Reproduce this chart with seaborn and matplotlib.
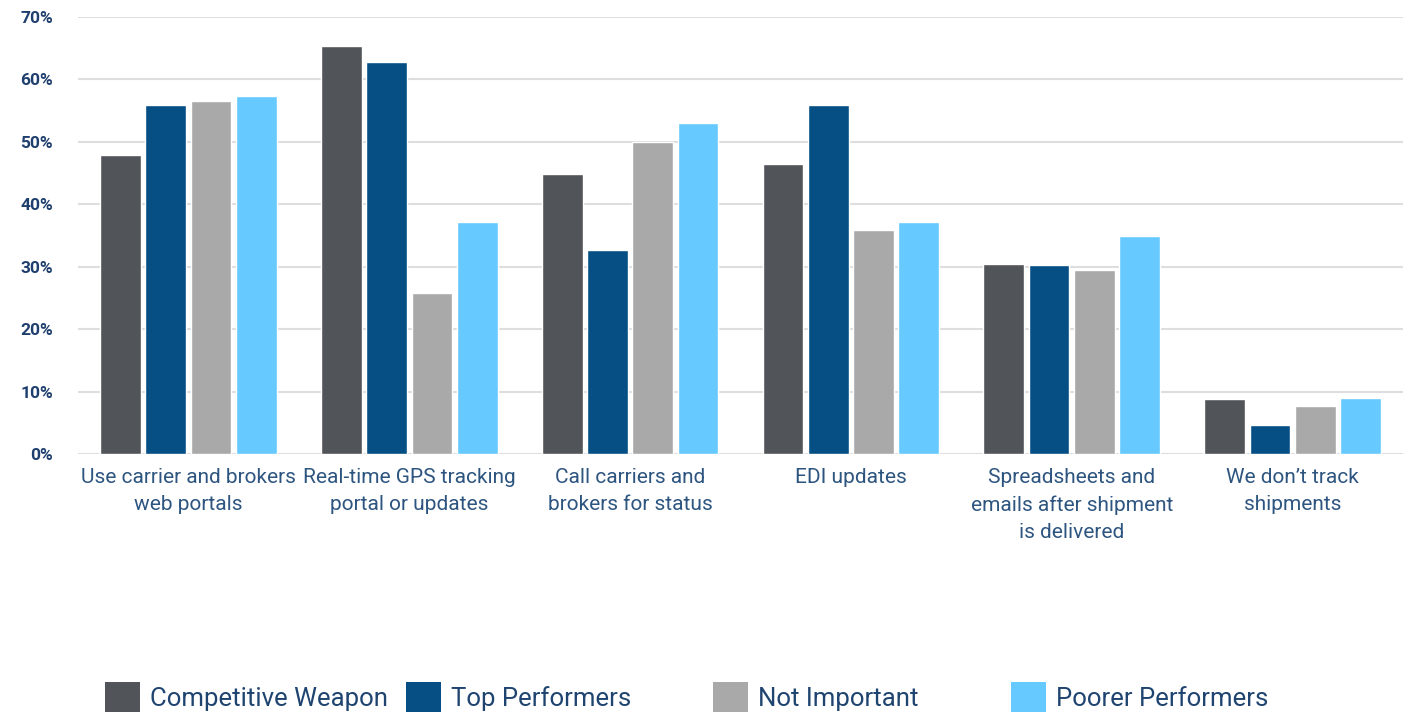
import numpy as np
import pandas as pd
import matplotlib
matplotlib.use("Agg")
import matplotlib.pyplot as plt
from matplotlib.patches import Patch
import seaborn as sns

categories = [
    "Use carrier and brokers\nweb portals",
    "Real-time GPS tracking\nportal or updates",
    "Call carriers and\nbrokers for status",
    "EDI updates",
    "Spreadsheets and\nemails after shipment\nis delivered",
    "We don\u2019t track\nshipments",
]
series_names = ["Competitive Weapon", "Top Performers", "Not Important", "Poorer Performers"]
competitive_weapon = [47.9, 65.4, 44.9, 46.5, 30.4, 8.8]
top_performers = [55.9, 62.8, 32.7, 55.9, 30.3, 4.6]
not_important = [56.5, 25.8, 50.0, 35.9, 29.5, 7.7]
poorer_performers = [57.3, 37.2, 53.0, 37.2, 34.9, 9.0]
y_ticks = [0, 10, 20, 30, 40, 50, 60, 70]
y_tick_labels = ["0%", "10%", "20%", "30%", "40%", "50%", "60%", "70%"]

colors = ["#515458", "#054f85", "#a9a9a9", "#66c9ff"]

rows = []
for name, vals in zip(series_names, [competitive_weapon, top_performers, not_important, poorer_performers]):
    for c, v in zip(categories, vals):
        rows.append({"category": c, "series": name, "value": v})
df = pd.DataFrame(rows)

sns.set_theme(style="white")
plt.rcParams["font.family"] = ["Roboto", "DejaVu Sans"]

fig = plt.figure(figsize=(14.03, 7.16), dpi=100)
ax = fig.add_axes([78 / 1403, 1 - 454 / 716, 1 - 78 / 1403, (454 - 17) / 716])

sns.barplot(data=df, x="category", y="value", hue="series", hue_order=series_names,
            order=categories, palette=colors, width=0.82, gap=0.1, saturation=1,
            legend=False, ax=ax, zorder=3)

ax.set_ylim(0, 70)
ax.set_xlim(-0.5, 5.5)
ax.set_yticks(y_ticks)
ax.set_yticklabels(y_tick_labels, fontsize=12.5, fontweight="bold", color="#1f3f6e")
ax.set_xticks(range(len(categories)))
ax.set_xticklabels(categories, fontsize=15, color="#2d5580", linespacing=1.55)
ax.set_xlabel("")
ax.set_ylabel("")
ax.grid(axis="y", color="#dedede", linewidth=1.5, zorder=0)
ax.set_axisbelow(True)
for s in ax.spines.values():
    s.set_visible(False)
ax.tick_params(axis="both", length=0)
ax.tick_params(axis="y", pad=18)
ax.tick_params(axis="x", pad=10)

square_x = [105, 406, 713, 1011]
for name, col, sx in zip(series_names, colors, square_x):
    fig.legend(handles=[Patch(facecolor=col, edgecolor="none")], labels=[name],
               loc="center left", bbox_to_anchor=(sx / 1403, 1 - 697 / 716),
               frameon=False, borderpad=0, borderaxespad=0,
               handlelength=1.35, handleheight=1.45, handletextpad=0.4,
               prop={"size": 18.5}, labelcolor="#1f4470")

fig.savefig("out.png", dpi=100)
